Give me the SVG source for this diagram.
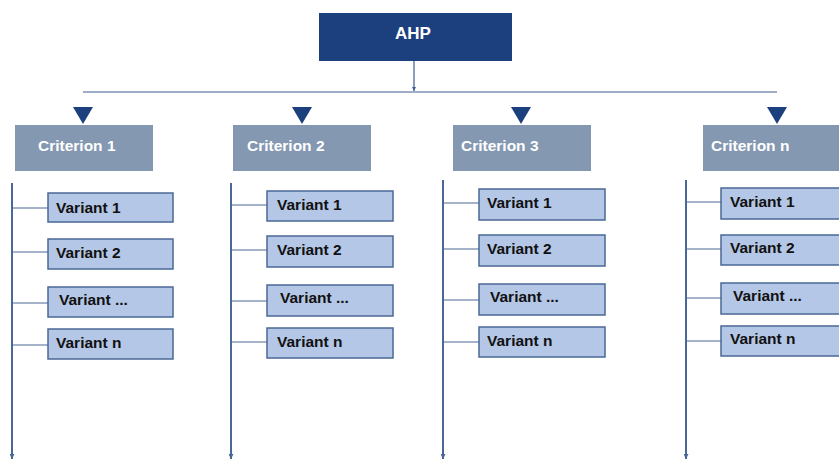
<svg xmlns="http://www.w3.org/2000/svg" width="839" height="459" viewBox="0 0 839 459">
  <style>
    .root { fill: #1c407e; }
    .root-label { fill: #ffffff; font: bold 17px "Liberation Sans", Arial, sans-serif; text-anchor: middle; }
    .crit { fill: #8598b2; }
    .crit-label { fill: #ffffff; font: bold 15.5px "Liberation Sans", Arial, sans-serif; }
    .tri { fill: #1c407e; }
    .var { fill: #b4c7e7; stroke: #4a6896; stroke-width: 1.5; }
    .var-label { fill: #111111; font: bold 15.5px "Liberation Sans", Arial, sans-serif; }
    .bus { stroke: #3f5f8f; stroke-width: 1.2; fill: none; }
    .spine { stroke: #4a6896; stroke-width: 2; fill: none; }
    .tick { stroke: #4a6896; stroke-width: 1; fill: none; }
  </style>
  <defs>
    <marker id="arrowSmall" viewBox="0 0 10 10" refX="10" refY="5" markerWidth="4" markerHeight="4" orient="auto" markerUnits="userSpaceOnUse">
      <path d="M0,0 L10,5 L0,10 z" fill="#3f5f8f"/>
    </marker>
    <marker id="arrowSpine" viewBox="0 0 10 10" refX="10" refY="5" markerWidth="5" markerHeight="5" orient="auto" markerUnits="userSpaceOnUse">
      <path d="M0,0 L10,5 L0,10 z" fill="#4a6896"/>
    </marker>
  </defs>

  <!-- connectors -->
  <g id="connectors">
    <line class="bus" x1="414" y1="61" x2="414" y2="91" marker-end="url(#arrowSmall)"/>
    <line class="bus" x1="83" y1="92" x2="777" y2="92"/>

    <polygon class="tri" points="73,107 93,107 83,124"/>
    <polygon class="tri" points="292,107 312,107 302,124"/>
    <polygon class="tri" points="511,107 531,107 521,124"/>
    <polygon class="tri" points="767,107 787,107 777,124"/>

    <!-- column 1 -->
    <line class="spine" x1="12" y1="183" x2="12" y2="459" marker-end="url(#arrowSpine)"/>
    <line class="tick" x1="12" y1="208" x2="48" y2="208"/>
    <line class="tick" x1="12" y1="252" x2="48" y2="252"/>
    <line class="tick" x1="12" y1="303" x2="48" y2="303"/>
    <line class="tick" x1="12" y1="345" x2="48" y2="345"/>

    <!-- column 2 -->
    <line class="spine" x1="231" y1="183" x2="231" y2="459" marker-end="url(#arrowSpine)"/>
    <line class="tick" x1="231" y1="205" x2="267" y2="205"/>
    <line class="tick" x1="231" y1="250" x2="267" y2="250"/>
    <line class="tick" x1="231" y1="301" x2="267" y2="301"/>
    <line class="tick" x1="231" y1="342" x2="267" y2="342"/>

    <!-- column 3 -->
    <line class="spine" x1="443" y1="180" x2="443" y2="459" marker-end="url(#arrowSpine)"/>
    <line class="tick" x1="443" y1="203" x2="479" y2="203"/>
    <line class="tick" x1="443" y1="249" x2="479" y2="249"/>
    <line class="tick" x1="443" y1="300" x2="479" y2="300"/>
    <line class="tick" x1="443" y1="342" x2="479" y2="342"/>

    <!-- column n -->
    <line class="spine" x1="686" y1="180" x2="686" y2="459" marker-end="url(#arrowSpine)"/>
    <line class="tick" x1="686" y1="202" x2="721" y2="202"/>
    <line class="tick" x1="686" y1="249" x2="721" y2="249"/>
    <line class="tick" x1="686" y1="298" x2="721" y2="298"/>
    <line class="tick" x1="686" y1="341" x2="721" y2="341"/>
  </g>

  <!-- goal -->
  <g id="ahp">
    <rect class="root" x="319" y="13" width="193" height="48"/>
    <text class="root-label" x="413" y="39">AHP</text>
  </g>

  <!-- criteria -->
  <g id="criterion-1">
    <rect class="crit" x="15" y="125" width="138" height="46"/>
    <text class="crit-label" x="38" y="151">Criterion 1</text>
  </g>
  <g id="criterion-2">
    <rect class="crit" x="233" y="125" width="138" height="46"/>
    <text class="crit-label" x="247" y="151">Criterion 2</text>
  </g>
  <g id="criterion-3">
    <rect class="crit" x="453" y="125" width="138" height="46"/>
    <text class="crit-label" x="461" y="151">Criterion 3</text>
  </g>
  <g id="criterion-n">
    <rect class="crit" x="703" y="125" width="140" height="46"/>
    <text class="crit-label" x="711" y="151">Criterion n</text>
  </g>

  <!-- variants, column 1 -->
  <g id="c1-variant-1">
    <rect class="var" x="48" y="193" width="125" height="29"/>
    <text class="var-label" x="56" y="213">Variant 1</text>
  </g>
  <g id="c1-variant-2">
    <rect class="var" x="48" y="239" width="125" height="30"/>
    <text class="var-label" x="56" y="258">Variant 2</text>
  </g>
  <g id="c1-variant-etc">
    <rect class="var" x="48" y="287" width="125" height="30"/>
    <text class="var-label" x="59" y="305">Variant ...</text>
  </g>
  <g id="c1-variant-n">
    <rect class="var" x="48" y="329" width="125" height="30"/>
    <text class="var-label" x="56" y="348">Variant n</text>
  </g>

  <!-- variants, column 2 -->
  <g id="c2-variant-1">
    <rect class="var" x="267" y="191" width="126" height="30"/>
    <text class="var-label" x="277" y="210">Variant 1</text>
  </g>
  <g id="c2-variant-2">
    <rect class="var" x="267" y="236" width="126" height="31"/>
    <text class="var-label" x="277" y="255">Variant 2</text>
  </g>
  <g id="c2-variant-etc">
    <rect class="var" x="267" y="285" width="126" height="31"/>
    <text class="var-label" x="280" y="303">Variant ...</text>
  </g>
  <g id="c2-variant-n">
    <rect class="var" x="267" y="328" width="126" height="30"/>
    <text class="var-label" x="277" y="347">Variant n</text>
  </g>

  <!-- variants, column 3 -->
  <g id="c3-variant-1">
    <rect class="var" x="479" y="189" width="126" height="31"/>
    <text class="var-label" x="487" y="208">Variant 1</text>
  </g>
  <g id="c3-variant-2">
    <rect class="var" x="479" y="235" width="126" height="31"/>
    <text class="var-label" x="487" y="254">Variant 2</text>
  </g>
  <g id="c3-variant-etc">
    <rect class="var" x="479" y="284" width="126" height="31"/>
    <text class="var-label" x="490" y="302">Variant ...</text>
  </g>
  <g id="c3-variant-n">
    <rect class="var" x="479" y="327" width="126" height="30"/>
    <text class="var-label" x="487" y="346">Variant n</text>
  </g>

  <!-- variants, column n -->
  <g id="cn-variant-1">
    <rect class="var" x="721" y="188" width="125" height="31"/>
    <text class="var-label" x="730" y="207">Variant 1</text>
  </g>
  <g id="cn-variant-2">
    <rect class="var" x="721" y="235" width="125" height="30"/>
    <text class="var-label" x="730" y="253">Variant 2</text>
  </g>
  <g id="cn-variant-etc">
    <rect class="var" x="721" y="283" width="125" height="31"/>
    <text class="var-label" x="733" y="301">Variant ...</text>
  </g>
  <g id="cn-variant-n">
    <rect class="var" x="721" y="326" width="125" height="30"/>
    <text class="var-label" x="730" y="344">Variant n</text>
  </g>
</svg>
